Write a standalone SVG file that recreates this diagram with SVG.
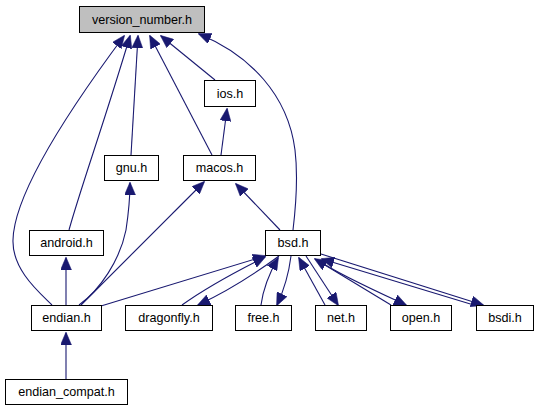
<svg xmlns="http://www.w3.org/2000/svg" width="539" height="411" viewBox="0 0 539 411">
<defs>
<style>
.node rect{fill:#ffffff;stroke:#000000;stroke-width:1}
.node.root rect{fill:#bfbfbf}
.node text{font-family:"Liberation Sans",Arial,sans-serif;font-size:12.6px;fill:#000000;text-anchor:middle}
.edges path{fill:none;stroke:#191970;stroke-width:1.1;marker-end:url(#ah)}
</style>
<marker id="ah" markerUnits="userSpaceOnUse" markerWidth="13" markerHeight="11" viewBox="0 0 13 11" refX="12" refY="5.5" orient="auto">
<path d="M0,0 L13,5.5 L0,11 z" fill="#191970" stroke="#191970" stroke-width="0.5"/>
</marker>
</defs>
<rect width="539" height="411" fill="#ffffff"/>
<g class="edges">
<path d="M52,305 C40,293 12,270 13,240 C14,190 80,95 124,36"/>
<path d="M69,230 C80,190 105,120 130,36"/>
<path d="M131,155 L138,36"/>
<path d="M79,305 C100,290 120,260 126,230 C129,210 130,195 130,183"/>
<path d="M81,305 L204,182"/>
<path d="M212,155 L150,36"/>
<path d="M215,80 L161,36"/>
<path d="M221,155 L227,109"/>
<path d="M293,230 C296,205 298,175 295,150 C288,95 250,55 199,34"/>
<path d="M280,230 L236,184"/>
<path d="M66,305 L66,258"/>
<path d="M66,379 L66,333"/>
<path d="M101,306 L265,256"/>
<path d="M182,305 C200,292 235,272 265,257"/>
<path d="M279,256 C260,270 230,290 198,305"/>
<path d="M261,305 C263,290 270,272 278,258"/>
<path d="M291,256 C289,272 284,290 277,305"/>
<path d="M325,305 L299,258"/>
<path d="M306,256 L338,305"/>
<path d="M391,305 L315,259"/>
<path d="M319,261 C340,275 380,293 406,305"/>
<path d="M477,306 L322,259"/>
<path d="M321,254 L483,305"/>
</g>
<g id="version_number" class="node root"><rect x="79.5" y="6.5" width="125" height="26"/><text x="142" y="23.5">version_number.h</text></g>
<g id="ios" class="node"><rect x="204.5" y="80.5" width="51" height="26"/><text x="230" y="97.5">ios.h</text></g>
<g id="gnu" class="node"><rect x="104.5" y="155.5" width="54" height="25"/><text x="131.5" y="172">gnu.h</text></g>
<g id="macos" class="node"><rect x="183.5" y="155.5" width="72" height="25"/><text x="219.5" y="172">macos.h</text></g>
<g id="android" class="node"><rect x="29.5" y="230.5" width="74" height="25"/><text x="66.5" y="247">android.h</text></g>
<g id="bsd" class="node"><rect x="265.5" y="230.5" width="55" height="25"/><text x="293" y="247">bsd.h</text></g>
<g id="endian" class="node"><rect x="31.5" y="305.5" width="70" height="25"/><text x="66.5" y="322">endian.h</text></g>
<g id="dragonfly" class="node"><rect x="125.5" y="305.5" width="87" height="25"/><text x="169" y="322">dragonfly.h</text></g>
<g id="free" class="node"><rect x="235.5" y="305.5" width="56" height="25"/><text x="263.5" y="322">free.h</text></g>
<g id="net" class="node"><rect x="315.5" y="305.5" width="51" height="25"/><text x="341" y="322">net.h</text></g>
<g id="open" class="node"><rect x="390.5" y="305.5" width="61" height="25"/><text x="421" y="322">open.h</text></g>
<g id="bsdi" class="node"><rect x="476.5" y="305.5" width="57" height="25"/><text x="505" y="322">bsdi.h</text></g>
<g id="endian_compat" class="node"><rect x="5.5" y="379.5" width="122" height="25"/><text x="66.5" y="396">endian_compat.h</text></g>
</svg>
